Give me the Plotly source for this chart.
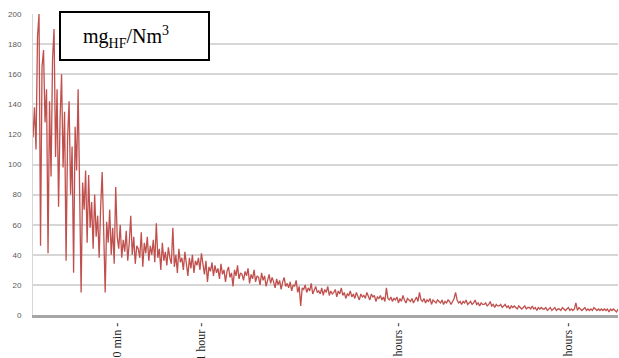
import plotly.graph_objects as go

values = [
    118, 138, 110, 185, 200, 46, 165, 176, 128, 150,
    41, 142, 92, 170, 190, 105, 150, 72, 130, 160,
    98, 135, 36, 118, 142, 80, 112, 28, 125, 96,
    150, 62, 15, 88, 70, 96, 48, 93, 58, 75,
    44, 80, 52, 66, 38, 72, 95, 56, 15, 62,
    48, 70, 40, 58, 34, 85, 52, 44, 60, 38,
    50, 42, 56, 36, 48, 66, 40, 52, 34, 46,
    44, 38, 55, 32, 48, 41, 52, 36, 46, 40,
    50, 35, 61, 38, 44, 30, 48, 36, 42, 33,
    45, 38, 34, 58, 32, 40, 28, 44, 35, 38,
    30, 42, 34, 26, 38, 31, 40, 28, 36, 33,
    38, 30, 41, 34, 27, 36, 22, 32, 29, 35,
    26, 33, 28, 31, 24, 34, 27, 30, 22, 29,
    32, 25, 28, 19, 30, 26, 33, 24, 28, 27,
    23, 29, 26, 31, 21, 27, 24, 30, 22, 26,
    25, 20, 28, 23, 26, 19, 24, 27, 21, 25,
    22, 18, 24, 20, 23, 17, 22, 25, 19, 21,
    18, 22, 16, 20, 19, 23, 15, 19, 6, 18,
    17, 20, 15, 18, 16, 21, 14, 17, 19, 15,
    16, 14, 18, 13, 17, 15, 19, 13, 16, 14,
    15, 17, 12, 16, 14, 18, 13, 15, 11, 14,
    13, 16, 12, 14, 11, 15, 13, 10, 14, 12,
    13, 11, 15, 12, 10, 14, 12, 13, 9, 12,
    11, 13, 10, 12, 9, 18, 11, 10, 12, 9,
    11, 10, 12, 8, 11, 9, 13, 10, 8, 11,
    10, 9, 11, 8, 10, 12, 9, 15, 10, 9,
    11, 8, 10, 9, 11, 7, 10, 9, 8, 10,
    9, 8, 10, 7, 9, 8, 10, 9, 7, 9,
    11, 15, 10, 8, 9, 7, 9, 8, 10, 7,
    8, 9, 7, 8, 10, 7, 8, 6, 8, 7,
    7, 8, 6, 7, 9, 6, 7, 5, 7, 6,
    6, 7, 5, 6, 7, 5, 6, 4, 6, 5,
    6, 5, 4, 6, 5, 4, 5, 6, 4, 5,
    5, 4, 6, 4, 5, 3, 5, 4, 5, 4,
    4, 5, 3, 4, 5, 3, 4, 5, 3, 4,
    4, 3, 5, 4, 3, 4, 5, 3, 4, 3,
    4, 8, 3, 5, 4, 3, 4, 5, 3, 4,
    3, 4, 3, 5, 4, 3, 4, 3, 4, 3,
    4, 3, 4, 2, 4, 3, 4, 3, 2, 4,
]
samples = list(range(len(values)))

time_tick_positions = [56, 112, 243, 356]
time_tick_labels = ["30 min -", "1 hour -", "2 hours -", "3 hours -"]

y_ticks = list(range(0, 201, 20))

fig = go.Figure()
fig.add_trace(go.Scatter(
    x=samples, y=values, mode="lines",
    line=dict(color="#C0504D", width=1.3),
    showlegend=False, hoverinfo="skip",
))

W, H = 619, 358
ml, mr, mt, mb = 33, 1, 14, 43
pw, ph = W - ml - mr, H - mt - mb

def px_x(px):
    return (px - ml) / pw

def px_y(py):
    return (H - mb - py) / ph

fig.update_layout(
    width=W, height=H,
    margin=dict(l=ml, r=mr, t=mt, b=mb, pad=0),
    plot_bgcolor="white", paper_bgcolor="white",
    xaxis=dict(
        range=[0, len(values) - 1],
        showgrid=False, zeroline=False,
        showline=True, linecolor="#a6a6a6", linewidth=3,
        tickmode="array", tickvals=time_tick_positions, ticktext=time_tick_labels,
        tickangle=-90, ticks="",
        tickfont=dict(family="Liberation Serif", size=12, color="#222222"),
        automargin=False,
    ),
    yaxis=dict(
        range=[0, 200],
        tickmode="array", tickvals=y_ticks,
        showgrid=True, gridcolor="#d6d6d6", gridwidth=1.5,
        zeroline=False,
        showline=True, linecolor="#d6d6d6", linewidth=1,
        ticks="", ticklabelstandoff=9,
        tickfont=dict(family="Liberation Sans", size=8, color="#595959"),
        automargin=False,
    ),
    shapes=[dict(
        type="rect", xref="paper", yref="paper",
        x0=px_x(60), x1=px_x(209), y0=px_y(60), y1=px_y(12),
        line=dict(color="black", width=2), fillcolor="white", layer="above",
    )],
    annotations=[dict(
        xref="paper", yref="paper", x=px_x(81), y=px_y(37),
        xanchor="left", yanchor="middle", showarrow=False,
        text="mg<sub>HF</sub>/Nm<sup>3</sup>",
        font=dict(family="Liberation Serif", size=20, color="black"),
    )],
)

fig.write_html("out.html", config={"displayModeBar": False},
               post_script="document.body.style.margin='0';")
